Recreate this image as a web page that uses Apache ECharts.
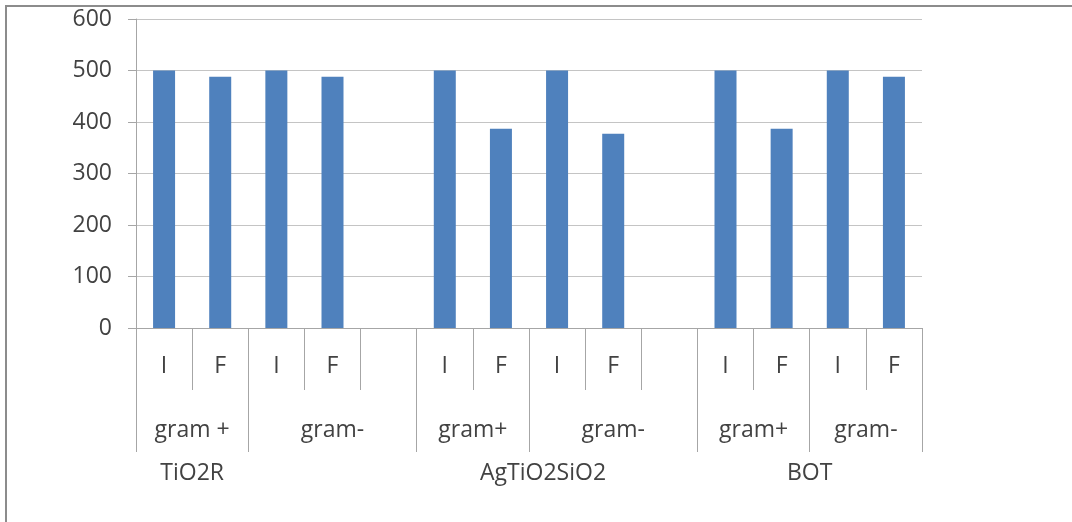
<!DOCTYPE html>
<html>
<head>
<meta charset="utf-8">
<script src="https://cdn.jsdelivr.net/npm/echarts@6/dist/echarts.min.js"></script>
<style>
  html, body { margin: 0; padding: 0; background: #fff; overflow: hidden; }
  #chart { position: absolute; left: 0; top: 0; width: 1072px; height: 522px; }
  #frame { position: absolute; left: 5px; top: 5px; width: 1100px; height: 540px;
           border-left: 2px solid #8c8c8c; border-top: 2px solid #8c8c8c; pointer-events: none; }
</style>
</head>
<body>
<div id="frame"></div>
<div id="chart"></div>
<script>
// Innermost category level: sample taken initially (I) or finally (F); '' = spacer slot
const sampleLabels = ['I', 'F', 'I', 'F', '', 'I', 'F', 'I', 'F', '', 'I', 'F', 'I', 'F'];
// Middle level: bacteria type
const gramLabels = ['gram +', 'gram +', 'gram-', 'gram-', 'gram-',
                    'gram+', 'gram+', 'gram-', 'gram-', 'gram-',
                    'gram+', 'gram+', 'gram-', 'gram-'];
// Outer level: material
const materialLabels = ['TiO2R', 'TiO2R', 'TiO2R', 'TiO2R', 'TiO2R',
                        'AgTiO2SiO2', 'AgTiO2SiO2', 'AgTiO2SiO2', 'AgTiO2SiO2', 'AgTiO2SiO2',
                        'BOT', 'BOT', 'BOT', 'BOT'];
// Bar values
const counts = [500, 488, 500, 488, null, 500, 387, 500, 377, null, 500, 387, 500, 488];
// Value axis ticks
const yTicks = [0, 100, 200, 300, 400, 500, 600];

// Where each material name sits along the axis (in category widths from the left edge)
const materialAnchor = { 'TiO2R': 1, 'AgTiO2SiO2': 7.25, 'BOT': 12 };

const N = sampleLabels.length;
const SUB = 4;                 // quarter-category resolution for the outer level axes
const fineCount = N * SUB + 1;

// Runs of identical (material, gram) pairs -> group boundaries and label centres
const runs = [];
let start = 0;
for (let i = 1; i <= N; i++) {
  if (i === N || gramLabels[i] !== gramLabels[start] || materialLabels[i] !== materialLabels[start]) {
    runs.push({ start: start, end: i, label: gramLabels[start] });
    start = i;
  }
}
const boundarySet = new Set();
const gramFine = new Array(fineCount).fill('');
runs.forEach(r => {
  boundarySet.add(r.start * SUB);
  boundarySet.add(r.end * SUB);
  gramFine[Math.round((r.start + r.end) * SUB / 2)] = r.label;
});
const materialFine = new Array(fineCount).fill('');
[...new Set(materialLabels)].forEach(m => {
  materialFine[Math.round(materialAnchor[m] * SUB)] = m;
});

const textColor = '#424242';
const lineColor = '#a6a6a6';
const font = 'Open Sans';
const fontSize = 23;

const chart = echarts.init(document.getElementById('chart'), null, { renderer: 'canvas' });
chart.setOption({
  animation: false,
  grid: { left: 136, right: 150, top: 19, bottom: 194 },
  xAxis: [
    {
      type: 'category',
      position: 'bottom',
      data: sampleLabels,
      axisLine: { show: true, lineStyle: { color: lineColor, width: 1 } },
      axisTick: { show: true, interval: 0, length: 62, lineStyle: { color: lineColor } },
      axisLabel: { interval: 0, margin: 27, color: textColor, fontFamily: font, fontSize: fontSize },
      splitLine: { show: false }
    },
    {
      type: 'category',
      position: 'bottom',
      offset: 0,
      boundaryGap: false,
      data: gramFine,
      axisLine: { show: false },
      axisTick: { show: true, length: 124, interval: (idx) => boundarySet.has(idx),
                  lineStyle: { color: lineColor } },
      axisLabel: { interval: 0, margin: 91, color: textColor, fontFamily: font, fontSize: fontSize },
      splitLine: { show: false }
    },
    {
      type: 'category',
      position: 'bottom',
      offset: 0,
      boundaryGap: false,
      data: materialFine,
      axisLine: { show: false },
      axisTick: { show: false },
      axisLabel: { interval: 0, margin: 134, color: textColor, fontFamily: font, fontSize: fontSize },
      splitLine: { show: false }
    }
  ],
  yAxis: {
    type: 'value',
    min: yTicks[0],
    max: yTicks[yTicks.length - 1],
    interval: yTicks[1] - yTicks[0],
    axisLine: { show: true, lineStyle: { color: lineColor } },
    axisTick: { show: true, length: 8, lineStyle: { color: lineColor } },
    axisLabel: { margin: 24, color: textColor, fontFamily: font, fontSize: fontSize },
    splitLine: { show: true, lineStyle: { color: '#c4c4c4', width: 1 } }
  },
  series: [{
    type: 'bar',
    xAxisIndex: 0,
    data: counts,
    barWidth: 22,
    itemStyle: { color: '#4f81bd' }
  }]
});
</script>
</body>
</html>
